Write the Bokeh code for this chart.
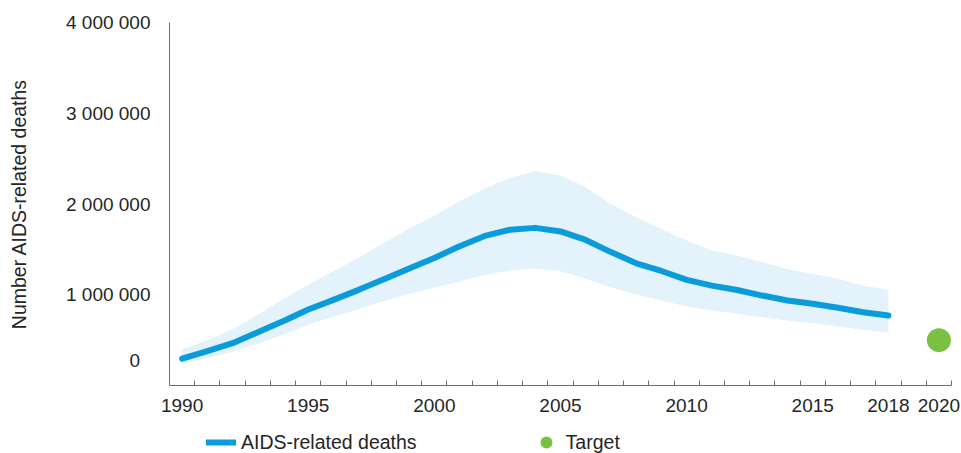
from bokeh.plotting import figure
from bokeh.layouts import column
from bokeh.models import FixedTicker, Range1d, Legend, LegendItem
from bokeh.embed import file_html
from bokeh.resources import INLINE

# AIDS-related deaths, estimate with lower and upper bounds
years = list(range(1990, 2019))
deaths = [295000, 378000, 466000, 587000, 708000, 837000, 944000, 1054000,
          1172000, 1290000, 1406000, 1535000, 1648000, 1716000, 1737000,
          1698000, 1604000, 1470000, 1347000, 1262000, 1164000, 1101000,
          1052000, 991000, 937000, 900000, 856000, 807000, 771000]
deaths_low = [246000, 300000, 370000, 460000, 560000, 670000, 760000, 840000,
              930000, 1010000, 1080000, 1145000, 1220000, 1266000, 1289000,
              1259000, 1175000, 1083000, 1002000, 936000, 870000, 826000,
              790000, 752000, 716000, 686000, 650000, 613000, 587000]
deaths_high = [400000, 500000, 620000, 780000, 950000, 1110000, 1260000,
               1410000, 1570000, 1730000, 1870000, 2030000, 2170000, 2290000,
               2360000, 2313000, 2184000, 2000000, 1854000, 1725000, 1597000,
               1487000, 1432000, 1358000, 1285000, 1230000, 1175000, 1100000,
               1054000]

# 2020 target
target_year = [2020]
target_value = [500000]

y_ticks = [0, 1000000, 2000000, 3000000, 4000000]
y_tick_labels = ["0", "1 000 000", "2 000 000", "3 000 000", "4 000 000"]
x_ticks = [1990, 1995, 2000, 2005, 2010, 2015, 2018, 2020]
all_years = list(range(1990, 2021))

FONT = "Liberation Sans"
TEXT = "#262626"
AXIS = "#6e6e6e"
BLUE = "#0A9BDB"
BAND = "#E3F2FB"
GREEN = "#7AC143"

p = figure(width=961, height=427, output_backend="svg", toolbar_location=None,
           x_range=Range1d(all_years[0] - 0.5, all_years[-1] + 0.5),
           y_range=Range1d(y_ticks[0], y_ticks[-1]),
           min_border_left=169, min_border_right=10,
           min_border_top=22, min_border_bottom=42)
p.grid.visible = False
p.outline_line_color = None
p.background_fill_color = "white"
p.border_fill_color = "white"

p.varea(x=years, y1=deaths_low, y2=deaths_high, fill_color=BAND)
p.line(years, deaths, line_width=6, line_color=BLUE,
       line_cap="round", line_join="round")
p.scatter(target_year, target_value, size=24, fill_color=GREEN, line_color=None)

# x axis: one category per year, tick marks between years
xa = p.xaxis[0]
xa.ticker = FixedTicker(ticks=x_ticks, minor_ticks=[y + 0.5 for y in all_years])
xa.major_tick_in = 0
xa.major_tick_out = 0
xa.minor_tick_in = 5
xa.minor_tick_out = 0
xa.minor_tick_line_color = AXIS
xa.axis_line_color = AXIS
xa.major_label_standoff = 13
xa.major_label_text_font = FONT
xa.major_label_text_font_size = "19px"
xa.major_label_text_color = TEXT

# y axis: the zero label is lifted above the baseline and set in from the axis
NB = "\u00a0"
labels = dict(zip(y_ticks, y_tick_labels))
labels[0] = labels[0] + NB * 2 + "\n" + NB + "\n" + NB

ya = p.yaxis[0]
ya.ticker = FixedTicker(ticks=y_ticks)
ya.major_label_overrides = labels
ya.major_tick_in = 0
ya.major_tick_out = 0
ya.minor_tick_line_color = None
ya.axis_line_color = AXIS
ya.major_label_standoff = 19
ya.major_label_text_font = FONT
ya.major_label_text_font_size = "19px"
ya.major_label_text_color = TEXT
ya.axis_label = "Number AIDS-related deaths"
ya.axis_label_text_font = FONT
ya.axis_label_text_font_size = "19.5px"
ya.axis_label_text_font_style = "normal"
ya.axis_label_text_color = TEXT
ya.axis_label_standoff = 33

# legend strip under the chart; its frame lines up with the chart's frame
lf = figure(width=961, height=26, output_backend="svg", toolbar_location=None,
            x_range=Range1d(0, 1), y_range=Range1d(0, 1), min_border=0)
lf.axis.visible = False
lf.grid.visible = False
lf.outline_line_color = None
nan = [float("nan")]
key_line = lf.line(x=nan, y=nan, line_width=6, line_color=BLUE, line_cap="round")
key_dot = lf.scatter(x=nan, y=nan, fill_color=GREEN, line_color=None)

legend = Legend(items=[LegendItem(label="AIDS-related deaths", renderers=[key_line]),
                       LegendItem(label="Target", renderers=[key_dot])],
                orientation="horizontal", location=(37, -5),
                glyph_width=30, glyph_height=32, label_standoff=5, spacing=114,
                padding=0, margin=0, border_line_color=None,
                background_fill_color=None, label_text_font=FONT,
                label_text_font_size="19.5px", label_text_color=TEXT)
lf.add_layout(legend)

open("out.html", "w").write(file_html(column(p, lf, spacing=0), INLINE))
